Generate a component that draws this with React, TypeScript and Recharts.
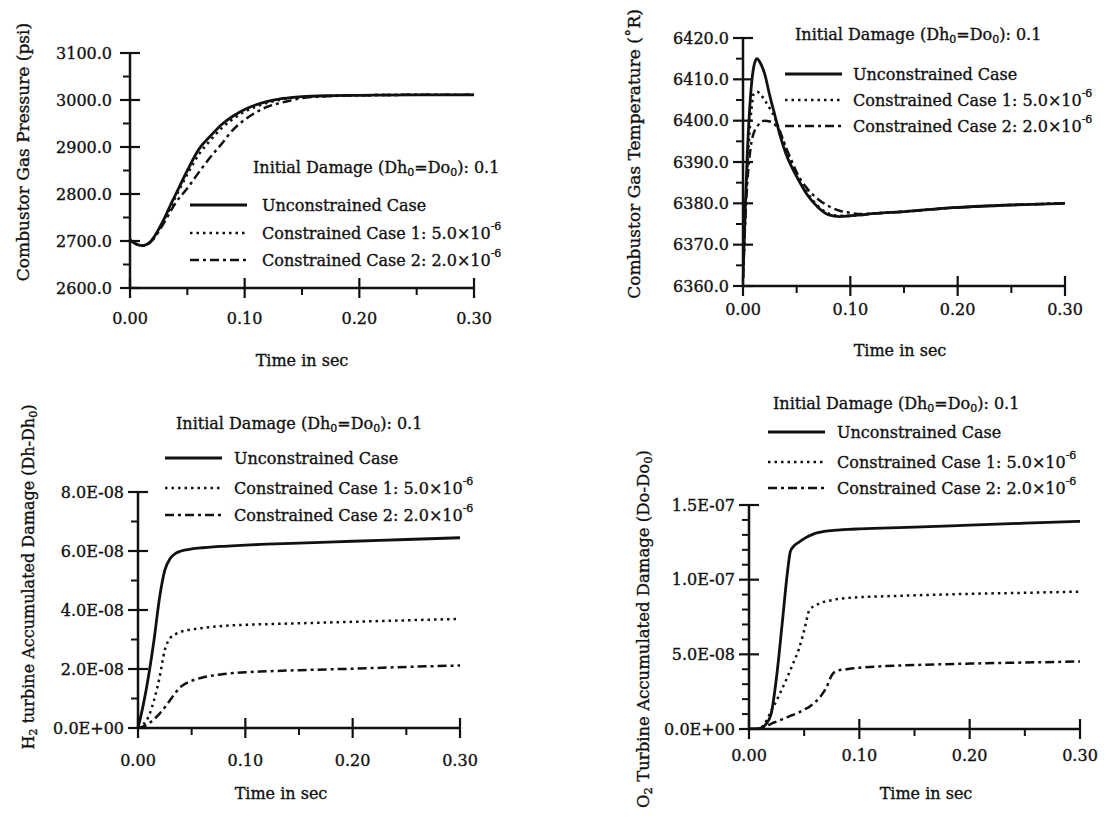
import React from "react"
import { LineChart, Line, XAxis, YAxis } from "recharts"

const FONT = "'DejaVu Serif', serif"
const INK = "#111"

// shared time axis
const timeMajor = [0, 0.1, 0.2, 0.3]
const timeMinor = [0.05, 0.15, 0.25]

// combustor gas pressure (psi)
const pressureTime = [0, 0.005, 0.01, 0.015, 0.02, 0.025, 0.03, 0.035, 0.04, 0.05, 0.06, 0.07, 0.08, 0.09, 0.1, 0.11, 0.12, 0.13, 0.14, 0.15, 0.17, 0.2, 0.25, 0.3]
const pressureUnc = [2702, 2694, 2690, 2693, 2705, 2725, 2748, 2775, 2800, 2850, 2895, 2923, 2948, 2966, 2980, 2990, 2997, 3002, 3005, 3007, 3009, 3010, 3011, 3011]
const pressureCase1 = [2702, 2694, 2690, 2693, 2704, 2723, 2745, 2770, 2795, 2842, 2884, 2914, 2940, 2960, 2975, 2986, 2994, 3000, 3004, 3006, 3008, 3010, 3011, 3011]
const pressureCase2 = [2702, 2694, 2690, 2693, 2703, 2720, 2740, 2762, 2782, 2812, 2846, 2878, 2907, 2937, 2958, 2974, 2986, 2993, 2999, 3004, 3008, 3010, 3011, 3011]
const pressureMajor = [2600, 2700, 2800, 2900, 3000, 3100]
const pressureMinor = [2650, 2750, 2850, 2950, 3050]

// combustor gas temperature (deg R)
const tempTime = [0, 0.002, 0.004, 0.006, 0.008, 0.01, 0.013, 0.016, 0.02, 0.025, 0.03, 0.035, 0.04, 0.045, 0.05, 0.06, 0.07, 0.08, 0.09, 0.1, 0.11, 0.12, 0.15, 0.2, 0.25, 0.3]
const tempUnc = [6362, 6378, 6392, 6402, 6409, 6413, 6415, 6414, 6411.5, 6406, 6401, 6396, 6392, 6389, 6386.5, 6382, 6379, 6377.2, 6376.8, 6377, 6377.2, 6377.5, 6378, 6379, 6379.6, 6380]
const tempCase1 = [6362, 6376, 6388, 6397, 6403, 6406.5, 6407, 6406.5, 6405, 6403, 6400.5, 6397, 6393, 6390, 6387, 6382.5, 6379.3, 6377.5, 6377, 6377, 6377.2, 6377.5, 6378, 6379, 6379.6, 6380]
const tempCase2 = [6362, 6375, 6385, 6391, 6395, 6397, 6398.5, 6399.5, 6400, 6399.8, 6399, 6397, 6393.5, 6390.5, 6387.5, 6383.5, 6381, 6379.3, 6378.2, 6377.7, 6377.4, 6377.5, 6378, 6379, 6379.6, 6380]
const tempMajor = [6360, 6370, 6380, 6390, 6400, 6410, 6420]
const tempMinor = [6365, 6375, 6385, 6395, 6405, 6415]

// H2 turbine accumulated damage
const h2Time = [0, 0.005, 0.01, 0.015, 0.02, 0.025, 0.03, 0.035, 0.04, 0.05, 0.06, 0.07, 0.08, 0.1, 0.12, 0.15, 0.2, 0.25, 0.3]
const h2Unc = [0, 0.8e-8, 1.8e-8, 3.0e-8, 4.4e-8, 5.35e-8, 5.75e-8, 5.92e-8, 6.0e-8, 6.07e-8, 6.11e-8, 6.14e-8, 6.16e-8, 6.2e-8, 6.23e-8, 6.27e-8, 6.33e-8, 6.39e-8, 6.45e-8]
const h2Case1 = [0, 0.12e-8, 0.4e-8, 0.95e-8, 1.7e-8, 2.65e-8, 3.05e-8, 3.18e-8, 3.26e-8, 3.34e-8, 3.39e-8, 3.43e-8, 3.46e-8, 3.5e-8, 3.52e-8, 3.55e-8, 3.6e-8, 3.65e-8, 3.7e-8]
const h2Case2 = [0, 0.05e-8, 0.15e-8, 0.3e-8, 0.48e-8, 0.7e-8, 0.95e-8, 1.2e-8, 1.4e-8, 1.6e-8, 1.71e-8, 1.78e-8, 1.83e-8, 1.89e-8, 1.92e-8, 1.96e-8, 2.01e-8, 2.07e-8, 2.12e-8]
const h2Major = [0, 2e-8, 4e-8, 6e-8, 8e-8]
const h2Minor = [1e-8, 3e-8, 5e-8, 7e-8]

// O2 turbine accumulated damage
const o2Time = [0, 0.005, 0.01, 0.015, 0.02, 0.025, 0.03, 0.035, 0.0375, 0.04, 0.045, 0.05, 0.055, 0.06, 0.065, 0.07, 0.075, 0.08, 0.09, 0.1, 0.12, 0.15, 0.2, 0.25, 0.3]
const o2Unc = [0, 0, 0.05e-8, 0.3e-8, 1.0e-8, 3.5e-8, 7.0e-8, 10.6e-8, 11.9e-8, 12.2e-8, 12.5e-8, 12.75e-8, 12.95e-8, 13.1e-8, 13.18e-8, 13.25e-8, 13.29e-8, 13.32e-8, 13.37e-8, 13.4e-8, 13.45e-8, 13.52e-8, 13.65e-8, 13.78e-8, 13.9e-8]
const o2Case1 = [0, 0, 0.05e-8, 0.45e-8, 1.2e-8, 1.9e-8, 2.7e-8, 3.5e-8, 3.95e-8, 4.4e-8, 5.3e-8, 6.6e-8, 8.0e-8, 8.25e-8, 8.45e-8, 8.55e-8, 8.63e-8, 8.7e-8, 8.78e-8, 8.83e-8, 8.88e-8, 8.95e-8, 9.05e-8, 9.12e-8, 9.2e-8]
const o2Case2 = [0, 0, 0.02e-8, 0.15e-8, 0.35e-8, 0.5e-8, 0.65e-8, 0.8e-8, 0.88e-8, 0.95e-8, 1.1e-8, 1.3e-8, 1.5e-8, 1.8e-8, 2.2e-8, 2.75e-8, 3.6e-8, 3.9e-8, 4.02e-8, 4.1e-8, 4.2e-8, 4.28e-8, 4.38e-8, 4.45e-8, 4.52e-8]
const o2Major = [0, 5e-8, 1e-7, 1.5e-7]
const o2Minor = [1e-8, 2e-8, 3e-8, 4e-8, 6e-8, 7e-8, 8e-8, 9e-8, 1.1e-7, 1.2e-7, 1.3e-7, 1.4e-7]

const SOLID = undefined
const DOTTED = "2.5 4"
const DASHDOT = "9 4 3 4"

// slight outline so the type reads as heavy as the scanned original
const TEXT_STYLE = { fontFamily: FONT, fill: INK, stroke: INK, strokeWidth: 0.35 }

const fixed1 = (v: number) => v.toFixed(1)
const sci = (v: number) => {
  const [m, e] = v.toExponential(1).split("e")
  return `${m}E${e[0]}${e.slice(1).padStart(2, "0")}`
}

const buildRows = (t: number[], a: number[], b: number[], c: number[]) =>
  t.map((x, i) => ({ t: x, unc: a[i], c1: b[i], c2: c[i] }))

type Rect = { x0: number; x1: number; y0: number; y1: number }
type Box = { left: number; top: number; width: number; height: number }

const Y_W = 60
const X_H = 40

function makeYTick(majors: number[], fmt: (v: number) => string, gap: number) {
  return (props: any) => {
    const { x, y, payload } = props
    const v = payload.value
    if (majors.includes(v)) {
      return (
        <g>
          <line x1={x - 10} x2={x + 10} y1={y} y2={y} stroke={INK} strokeWidth={2.2} />
          <text x={x - gap} y={y} textAnchor="end" dominantBaseline="central" fontSize={16} {...TEXT_STYLE}>
            {fmt(v)}
          </text>
        </g>
      )
    }
    return <line x1={x - 7} x2={x} y1={y} y2={y} stroke={INK} strokeWidth={2} />
  }
}

function makeXTick(gap: number) {
  return (props: any) => {
    const { x, y, payload } = props
    const v = payload.value
    if (timeMajor.includes(v)) {
      return (
        <g>
          <line x1={x} x2={x} y1={y - 10} y2={y + 10} stroke={INK} strokeWidth={2.2} />
          <text x={x} y={y + gap} textAnchor="middle" dominantBaseline="central" fontSize={16} {...TEXT_STYLE}>
            {v.toFixed(2)}
          </text>
        </g>
      )
    }
    return <line x1={x} x2={x} y1={y} y2={y + 7} stroke={INK} strokeWidth={2} />
  }
}

interface PanelProps {
  box: Box
  plot: Rect
  rows: { t: number; unc: number; c1: number; c2: number }[]
  yDomain: [number, number]
  yMajor: number[]
  yMinor: number[]
  yFmt: (v: number) => string
  yGap: number
  xGap: number
}

const Panel: React.FC<PanelProps> = ({ box, plot, rows, yDomain, yMajor, yMinor, yFmt, yGap, xGap }) => {
  const margin = {
    left: plot.x0 - box.left - Y_W,
    top: plot.y0 - box.top,
    right: box.left + box.width - plot.x1,
    bottom: box.top + box.height - plot.y1 - X_H,
  }
  const yTicks = [...yMajor, ...yMinor].sort((a, b) => a - b)
  return (
    <div style={{ position: "absolute", left: box.left, top: box.top }}>
      <LineChart width={box.width} height={box.height} data={rows} margin={margin}>
        <XAxis
          dataKey="t"
          type="number"
          domain={[0, 0.3]}
          ticks={[...timeMajor, ...timeMinor].sort((a, b) => a - b)}
          interval={0}
          height={X_H}
          tickSize={0}
          tickMargin={0}
          tickLine={false}
          axisLine={{ stroke: INK, strokeWidth: 2.5 }}
          tick={makeXTick(xGap)}
          allowDataOverflow
        />
        <YAxis
          type="number"
          domain={yDomain}
          ticks={yTicks}
          interval={0}
          width={Y_W}
          tickSize={0}
          tickMargin={0}
          tickLine={false}
          axisLine={{ stroke: INK, strokeWidth: 2.5 }}
          tick={makeYTick(yMajor, yFmt, yGap)}
          allowDataOverflow
        />
        <Line dataKey="unc" type="monotone" stroke={INK} strokeWidth={2.8} dot={false} isAnimationActive={false} />
        <Line dataKey="c1" type="monotone" stroke={INK} strokeWidth={2.5} strokeDasharray={DOTTED} dot={false} isAnimationActive={false} />
        <Line dataKey="c2" type="monotone" stroke={INK} strokeWidth={2.5} strokeDasharray={DASHDOT} dot={false} isAnimationActive={false} />
      </LineChart>
    </div>
  )
}

const Header = ({ x, y }: { x: number; y: number }) => (
  <text x={x} y={y} dominantBaseline="central" fontSize={16} {...TEXT_STYLE}>
    Initial Damage (Dh<tspan dy={5} fontSize={11}>0</tspan>
    <tspan dy={-5}>=Do</tspan>
    <tspan dy={5} fontSize={11}>0</tspan>
    <tspan dy={-5}>): 0.1</tspan>
  </text>
)

const legendRows = [
  { dash: SOLID, width: 2.8, label: "Unconstrained Case", exp: "" },
  { dash: DOTTED, width: 2.5, label: "Constrained Case 1: 5.0\u00d710", exp: "-6" },
  { dash: DASHDOT, width: 2.5, label: "Constrained Case 2: 2.0\u00d710", exp: "-6" },
]

const LegendBlock = ({ hx, hy, lx, tx, ys }: { hx: number; hy: number; lx: number; tx: number; ys: number[] }) => (
  <g>
    <Header x={hx} y={hy} />
    {legendRows.map((r, i) => (
      <g key={i}>
        <line x1={lx} x2={lx + 57} y1={ys[i]} y2={ys[i]} stroke={INK} strokeWidth={r.width} strokeDasharray={r.dash} />
        <text x={tx} y={ys[i]} dominantBaseline="central" fontSize={16} {...TEXT_STYLE}>
          {r.label}
          {r.exp && (
            <tspan dy={-7} fontSize={11}>
              {r.exp}
            </tspan>
          )}
        </text>
      </g>
    ))}
  </g>
)

// rotated axis title; parts alternate normal text and subscripts
const VTitle = ({ x, y, size, parts }: { x: number; y: number; size: number; parts: [string, boolean][] }) => (
  <text
    transform={`translate(${x},${y}) rotate(-90)`}
    textAnchor="middle"
    dominantBaseline="central"
    fontSize={size}
    {...TEXT_STYLE}
  >
    {parts.map(([s, sub], i) =>
      sub ? (
        <tspan key={i} dy={5} fontSize={size - 5}>
          {s}
        </tspan>
      ) : (
        <tspan key={i} dy={i > 0 && parts[i - 1][1] ? -5 : 0}>
          {s}
        </tspan>
      )
    )}
  </text>
)

const HTitle = ({ x, y }: { x: number; y: number }) => (
  <text x={x} y={y} textAnchor="middle" dominantBaseline="central" fontSize={16} {...TEXT_STYLE}>
    Time in sec
  </text>
)

export default function App() {
  return (
    <div style={{ position: "absolute", left: 0, top: 0, width: 1106, height: 821, background: "#fff" }}>
      <Panel
        box={{ left: 0, top: 0, width: 553, height: 400 }}
        plot={{ x0: 130, x1: 474, y0: 53, y1: 288 }}
        rows={buildRows(pressureTime, pressureUnc, pressureCase1, pressureCase2)}
        yDomain={[2600, 3100]}
        yMajor={pressureMajor}
        yMinor={pressureMinor}
        yFmt={fixed1}
        yGap={18}
        xGap={30}
      />
      <Panel
        box={{ left: 553, top: 0, width: 553, height: 400 }}
        plot={{ x0: 743, x1: 1065, y0: 38, y1: 286 }}
        rows={buildRows(tempTime, tempUnc, tempCase1, tempCase2)}
        yDomain={[6360, 6420]}
        yMajor={tempMajor}
        yMinor={tempMinor}
        yFmt={fixed1}
        yGap={14}
        xGap={23}
      />
      <Panel
        box={{ left: 0, top: 400, width: 553, height: 421 }}
        plot={{ x0: 138, x1: 460, y0: 492, y1: 728 }}
        rows={buildRows(h2Time, h2Unc, h2Case1, h2Case2)}
        yDomain={[0, 8e-8]}
        yMajor={h2Major}
        yMinor={h2Minor}
        yFmt={sci}
        yGap={14}
        xGap={32}
      />
      <Panel
        box={{ left: 553, top: 400, width: 553, height: 421 }}
        plot={{ x0: 749, x1: 1080, y0: 505, y1: 729 }}
        rows={buildRows(o2Time, o2Unc, o2Case1, o2Case2)}
        yDomain={[0, 1.5e-7]}
        yMajor={o2Major}
        yMinor={o2Minor}
        yFmt={sci}
        yGap={14}
        xGap={26}
      />
      <svg width={1106} height={821} style={{ position: "absolute", left: 0, top: 0, pointerEvents: "none" }}>
        <VTitle x={23} y={152} size={17} parts={[["Combustor Gas Pressure (psi)", false]]} />
        <VTitle x={634} y={154} size={17} parts={[["Combustor Gas Temperature (\u02daR)", false]]} />
        <VTitle
          x={28}
          y={577}
          size={16}
          parts={[["H", false], ["2", true], [" turbine Accumulated Damage (Dh-Dh", false], ["0", true], [")", false]]}
        />
        <VTitle
          x={643}
          y={629}
          size={16.5}
          parts={[["O", false], ["2", true], [" Turbine Accumulated Damage (Do-Do", false], ["0", true], [")", false]]}
        />
        <HTitle x={302} y={360} />
        <HTitle x={900} y={350} />
        <HTitle x={281} y={793} />
        <HTitle x={926} y={793} />
        <LegendBlock hx={253} hy={167} lx={190} tx={262} ys={[205, 233, 260]} />
        <LegendBlock hx={795} hy={34} lx={785} tx={853} ys={[74, 100, 126]} />
        <LegendBlock hx={176} hy={423} lx={165} tx={234} ys={[458, 488, 515]} />
        <LegendBlock hx={773} hy={403} lx={768} tx={837} ys={[432, 462, 488]} />
      </svg>
    </div>
  )
}
